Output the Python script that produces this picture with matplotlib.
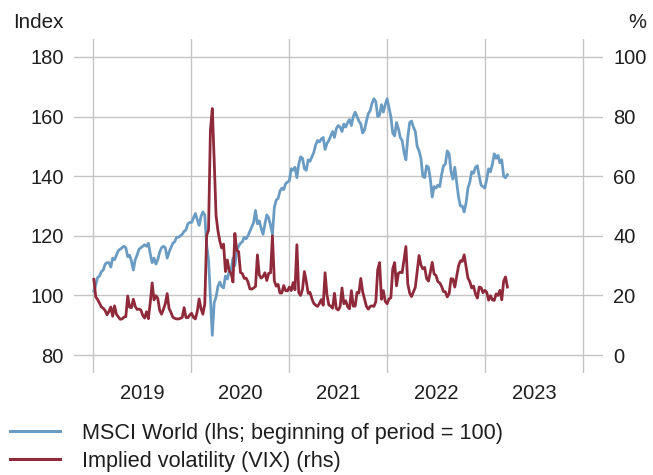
import pandas as pd
import matplotlib
matplotlib.use("Agg")
import matplotlib.pyplot as plt

# weekly closes (Fridays), 2019-01-04 .. 2023-03-24
msci_world = [
    # 2019
    101.5, 103.5, 106.0, 106.5,
    108.0, 108.5, 110.5, 111.0,
    111.0, 109.5, 112.5, 112.0, 113.5,
    115.0, 115.5, 116.0, 116.5,
    116.0, 113.0, 113.5, 111.5, 108.5,
    112.0, 113.5, 115.5, 116.0,
    116.5, 117.0, 116.5, 117.5,
    114.0, 111.0, 112.5, 110.5, 112.0,
    114.5, 116.0, 116.5, 116.0,
    112.5, 114.5, 116.0, 117.5,
    118.0, 119.5, 119.5, 120.0, 120.5,
    121.5, 122.0, 124.0, 124.5,
    # 2020
    124.5, 126.0, 127.5, 125.5, 123.5,
    126.5, 128.0, 127.0, 117.0,
    112.0, 99.0, 86.6, 97.5,
    99.5, 103.0, 104.5, 103.0,
    102.5, 106.5, 105.5, 108.0, 108.5,
    112.5, 110.0, 115.0, 116.5,
    117.5, 118.0, 119.5, 119.0, 120.0,
    121.5, 123.0, 124.5, 128.5,
    124.0, 125.0, 122.5, 120.5,
    124.0, 127.0, 126.0, 123.5, 120.5,
    129.5, 132.0, 132.5, 135.0,
    136.0, 135.5, 137.5, 138.0,
    # 2021
    138.5, 142.5, 142.0, 143.0, 139.5,
    144.0, 146.5, 146.0, 142.5,
    142.0, 145.5, 145.0, 146.5,
    148.0, 150.5, 152.0, 151.5, 152.5,
    153.0, 149.0, 151.0, 152.0,
    153.5, 155.0, 153.0, 156.0,
    157.0, 156.5, 155.0, 157.5, 156.5,
    158.0, 159.0, 157.0, 160.0,
    161.5, 160.0, 158.5, 157.5,
    154.5, 155.5, 158.5, 161.0, 162.0,
    164.5, 166.0, 165.0, 160.0,
    160.5, 164.0, 161.5, 164.0, 166.0,
    # 2022
    163.0, 160.0, 154.5, 153.5,
    158.0, 156.0, 153.0, 152.0,
    148.0, 145.5, 153.0, 158.0,
    158.5, 156.5, 155.0, 150.0, 148.5,
    146.0, 140.0, 139.5, 143.5,
    143.0, 139.0, 133.0, 136.5,
    136.0, 137.0, 136.5, 140.5, 143.5,
    144.0, 148.5, 147.5, 141.5,
    139.0, 143.0, 138.0, 133.0, 130.0,
    130.0, 128.0, 131.0, 136.0,
    138.0, 141.5, 141.0, 143.0,
    143.5, 140.0, 137.0, 136.5, 136.0,
    # 2023
    139.0, 142.5, 141.5, 144.0,
    147.5, 146.0, 147.0, 144.5,
    145.5, 140.0, 139.5, 140.5,
]

vix = [
    # 2019
    25.4, 19.5, 18.6, 17.4,
    16.1, 15.7, 14.9, 13.5,
    14.6, 16.1, 13.0, 16.5, 13.7,
    12.8, 12.0, 12.1, 12.7,
    12.9, 19.8, 16.0, 15.9, 18.7,
    16.3, 15.3, 15.4, 15.1,
    13.3, 12.4, 14.5, 12.2,
    17.6, 24.2, 18.5, 19.9, 19.0,
    15.0, 13.7, 15.3, 17.2,
    20.6, 15.6, 14.3, 12.7,
    12.3, 12.1, 12.1, 12.3, 12.6,
    15.9, 12.6, 12.5, 13.4,
    # 2020
    14.0, 12.6, 12.1, 14.6, 18.8,
    15.5, 13.7, 17.1, 40.1,
    41.9, 75.5, 82.7, 65.5,
    46.8, 41.7, 38.2, 35.9,
    37.2, 28.0, 31.9, 28.2, 27.5,
    24.5, 40.8, 35.1, 34.7,
    27.7, 27.3, 25.7, 25.8, 24.5,
    22.2, 22.1, 22.5, 23.0,
    33.6, 26.9, 25.8, 26.4,
    27.6, 25.0, 27.4, 27.6, 40.0,
    24.9, 23.1, 23.7, 20.8,
    20.8, 23.3, 21.6, 21.5,
    # 2021
    22.8, 21.6, 24.3, 21.9, 37.0,
    20.9, 20.0, 22.1, 28.0,
    24.7, 20.7, 21.0, 18.9,
    17.3, 16.7, 16.3, 17.3, 18.6,
    16.7, 27.6, 20.2, 16.8,
    16.4, 15.7, 20.7, 15.6,
    15.1, 16.2, 22.5, 17.2, 18.2,
    16.2, 15.5, 21.6, 16.4,
    16.4, 21.0, 20.8, 25.7,
    21.2, 18.8, 16.3, 15.4, 16.3,
    16.5, 16.3, 17.9, 28.6,
    31.0, 18.7, 21.6, 18.0, 17.2,
    # 2022
    18.8, 19.2, 28.9, 31.0,
    23.2, 27.4, 27.8, 27.6,
    32.0, 36.4, 23.9, 20.8,
    19.6, 21.2, 22.7, 28.2, 33.4,
    30.2, 28.9, 29.4, 25.7,
    24.8, 27.8, 31.1, 27.2,
    26.7, 24.6, 24.2, 23.0, 21.3,
    21.2, 19.5, 20.6, 25.6,
    25.5, 22.8, 26.3, 29.9, 31.6,
    31.4, 33.6, 29.7, 25.8,
    24.6, 22.5, 23.1, 20.5,
    19.1, 22.8, 22.6, 20.9, 21.7,
    # 2023
    21.1, 18.4, 19.9, 18.5,
    18.3, 20.5, 20.0, 21.7,
    18.5, 24.8, 26.2, 22.8,
]

years = [2019, 2020, 2021, 2022, 2023]
left_ticks = [80, 100, 120, 140, 160, 180]
right_ticks = [0, 20, 40, 60, 80, 100]

dates = pd.date_range("2019-01-04", periods=len(msci_world), freq="W-FRI")

BLUE = "#6a9cc3"
RED = "#8f2a3b"
GRID = "#c4c4c4"
TXT = "#1e1e1e"
FS = 14.5
LEG_FS = 15.6

plt.rcParams["font.family"] = ["Liberation Sans", "DejaVu Sans"]

fig = plt.figure(figsize=(6.53, 4.75), dpi=100)
ax = fig.add_axes([74 / 653, 102 / 475, 529 / 653, 334 / 475])
ax2 = ax.twinx()

ax.plot(dates, msci_world, color=BLUE, lw=2.0, solid_joinstyle="round")
ax2.plot(dates, vix, color=RED, lw=2.0, solid_joinstyle="round")

ax.set_xlim(pd.Timestamp("2018-10-22"), pd.Timestamp("2024-03-14"))
ax.set_ylim(73.96, 186.04)
ax2.set_ylim(-6.04, 106.04)

# year boundaries as gridlines, year names centred in between
ax.set_xticks([pd.Timestamp(f"{y}-01-01") for y in years + [2024]])
ax.set_xticklabels([])
ax.set_xticks([pd.Timestamp(f"{y}-07-02") for y in years], minor=True)
ax.set_xticklabels([str(y) for y in years], minor=True)

ax.set_yticks(left_ticks)
ax2.set_yticks(right_ticks)

ax.grid(True, which="major", color=GRID, lw=1.0)
ax.set_axisbelow(True)

for a in (ax, ax2):
    for s in a.spines.values():
        s.set_visible(False)
    a.tick_params(which="both", length=0, labelsize=FS, colors=TXT)
ax.tick_params(axis="y", pad=7.5)
ax2.tick_params(axis="y", pad=7.5)
ax.tick_params(axis="x", which="minor", pad=8)

fig.text(13 / 653, 1 - 23 / 475, "Index", ha="left", va="center", fontsize=FS + 0.4, color=TXT)
fig.text(646 / 653, 1 - 23 / 475, "%", ha="right", va="center", fontsize=FS, color=TXT)

h1 = plt.Line2D([], [], color=BLUE, lw=2.2)
h2 = plt.Line2D([], [], color=RED, lw=2.2)
leg_px = LEG_FS * 100 / 72
fig.legend([h1, h2],
           ["MSCI World (lhs; beginning of period = 100)", "Implied volatility (VIX) (rhs)"],
           loc="upper left", bbox_to_anchor=(10 / 653, 1 - 423 / 475),
           frameon=False, handlelength=50 / leg_px, handletextpad=22 / leg_px,
           labelspacing=0.3, borderpad=0.0, borderaxespad=0.0,
           prop={"family": ["Liberation Sans", "DejaVu Sans"], "size": LEG_FS},
           labelcolor=TXT)

fig.savefig("out.png", dpi=100)
